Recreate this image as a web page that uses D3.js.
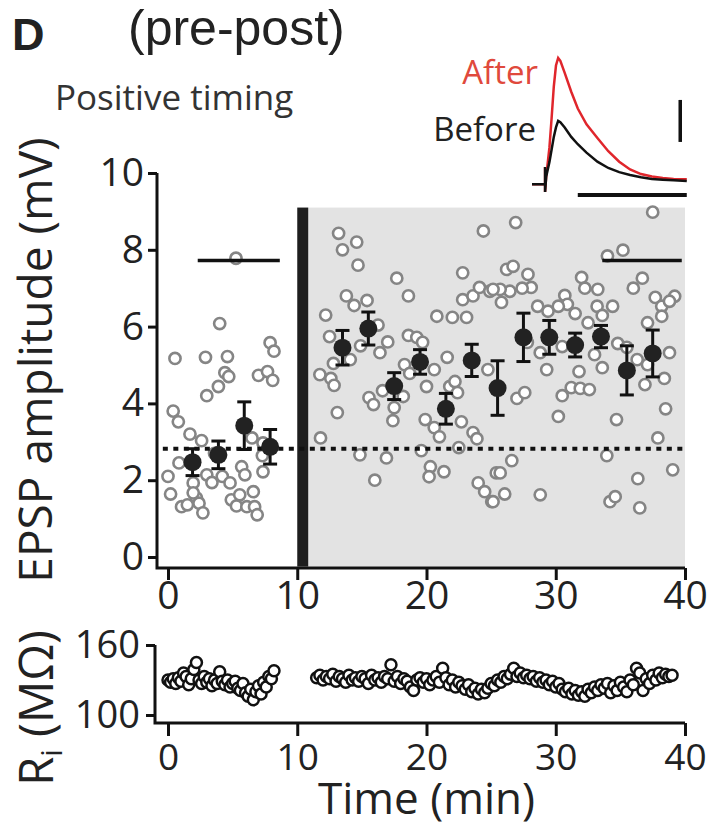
<!DOCTYPE html>
<html>
<head>
<meta charset="utf-8">
<script src="https://cdn.jsdelivr.net/npm/d3@7"></script>
<style>
  body { margin: 0; background: #fff; }
  text { font-family: "Open Sans", sans-serif; fill: #222; }
</style>
</head>
<body>
<svg width="710" height="827"></svg>
<script>
// EPSP amplitude of every sweep (min, mV)
const epspT = [5.26, 4.0, 0.54, 2.9, 4.6, 7.9, 8.2, 4.4, 4.7, 3.9, 3.0, 7.0, 7.7, 8.1, 0.4, 0.8, 1.7, 2.6, 6.5, 7.3,
  7.35, 0.85, 0.0, 3.0, 3.4, 4.2, 4.8, 5.7, 5.95, 1.95, 0.2, 1.05, 1.5, 2.2, 2.4, 2.7, 4.9, 5.3, 5.55, 6.1,
  6.6, 6.7, 6.9, 1.95, 3.6, 7.35,
  13.2, 13.5, 14.6, 14.7, 17.7, 18.6, 24.4, 22.8, 13.8, 14.4, 15.4, 12.2, 12.5, 14.9, 16.25, 17.0, 16.4, 14.1, 12.8, 11.75,
  12.6, 12.85, 13.1, 11.8, 14.85, 16.0, 16.9, 15.55, 15.9, 16.6, 17.5, 17.4, 18.2, 18.3, 18.6, 19.25, 19.7, 18.7, 20.6, 20.0,
  20.8, 22.0, 23.1, 21.6, 21.8, 22.2, 22.4, 19.9, 20.6, 21.0, 22.7, 23.6, 23.9, 22.5, 19.6, 20.3, 20.2, 21.35, 24.0, 24.5,
  25.05, 25.4, 22.8, 23.6, 24.1, 24.9, 24.75, 26.9, 37.5, 35.2, 34.0, 26.2, 26.7, 27.85, 28.1, 27.4, 26.45, 25.7, 25.15, 25.8,
  32.0, 32.25, 33.25, 36.7, 36.0, 37.7, 38.2, 39.2, 38.8, 38.2, 30.7, 30.9, 28.6, 29.4, 30.2, 31.5, 33.2, 33.6, 34.4, 32.5,
  37.1, 27.8, 28.8, 30.5, 33.0, 34.8, 35.5, 36.3, 37.1, 38.8, 29.3, 31.8, 33.6, 38.4, 36.9, 31.2, 31.9, 32.6, 30.5, 27.0,
  27.6, 30.2, 34.7, 38.5, 37.9, 33.95, 26.6, 25.7, 39.05, 36.35, 26.05, 25.15, 28.8, 34.2, 34.6, 36.5];
const epspV = [7.78, 6.08, 5.17, 5.2, 5.22, 5.58, 5.36, 4.8, 4.7, 4.44, 4.2, 4.73, 4.83, 4.6, 3.8, 3.52, 3.2, 3.03, 3.1, 2.64,
  2.22, 2.45, 2.1, 2.14, 1.94, 2.1, 1.93, 2.35, 2.14, 1.93, 1.64, 1.31, 1.36, 1.54, 1.4, 1.15, 1.49, 1.33, 1.62, 1.31,
  1.7, 1.31, 1.1, 1.67, 2.7, 2.97,
  8.43, 8.0, 8.2, 7.6, 7.26, 6.8, 8.49, 7.4, 6.8, 6.55, 6.68, 6.3, 5.74, 5.5, 6.04, 5.6, 5.32, 5.14, 5.04, 4.75,
  4.65, 4.47, 3.76, 3.1, 2.66, 2.0, 2.58, 4.15, 3.97, 4.33, 3.89, 3.55, 4.18, 5.01, 5.77, 5.72, 5.59, 4.78, 4.88, 4.44,
  6.27, 6.24, 6.24, 5.2, 4.44, 4.57, 4.28, 3.58, 3.37, 3.13, 3.52, 3.24, 3.08, 2.85, 2.77, 2.35, 2.09, 2.22, 1.93, 1.7,
  1.44, 2.19, 6.7, 6.8, 7.02, 6.92, 4.88, 8.71, 8.98, 7.99, 7.84, 7.49, 7.57, 7.36, 7.02, 7.0, 6.92, 6.97, 6.97, 6.63,
  7.28, 7.0, 6.97, 7.26, 7.0, 6.76, 6.53, 6.79, 6.66, 6.27, 6.81, 6.58, 6.53, 6.4, 6.53, 6.34, 6.53, 6.29, 6.53, 6.1,
  6.1, 5.59, 5.32, 5.48, 5.27, 5.56, 5.46, 5.14, 5.01, 5.32, 4.88, 4.83, 4.93, 4.65, 4.49, 4.41, 4.39, 4.36, 4.2, 4.13,
  4.28, 3.66, 3.58, 3.86, 3.1, 2.64, 2.51, 2.19, 2.27, 2.04, 1.64, 1.44, 1.62, 1.44, 1.57, 1.28];

// 2-min bin means +- SEM
const meanT = [1.9, 3.9, 5.9, 7.9, 13.5, 15.5, 17.5, 19.5, 21.5, 23.5, 25.5, 27.5, 29.5, 31.5, 33.5, 35.5, 37.5];
const meanV = [2.47, 2.66, 3.42, 2.87, 5.45, 5.95, 4.45, 5.08, 3.86, 5.12, 4.4, 5.72, 5.72, 5.52, 5.74, 4.86, 5.3];
const meanSem = [0.35, 0.36, 0.62, 0.45, 0.45, 0.43, 0.35, 0.32, 0.4, 0.42, 0.71, 0.63, 0.44, 0.31, 0.29, 0.64, 0.61];

const baseline = 2.82;
const pairing = [10.0, 10.85];
const windowBefore = [2.3, 8.65];
const windowAfter = [33.6, 39.75];
const windowLevel = 7.72;

// input resistance, one sweep every 0.2 min (pre) / 0.25 min (post)
const riPreStart = 0, riPreStep = 0.2;
const riPre = [130, 128, 131, 127, 132, 129, 136, 133, 126, 131, 139, 145, 130, 127, 133, 128, 131, 125, 130, 127,
  137, 129, 126, 130, 124, 127, 129, 123, 121, 127, 119, 116, 122, 113, 120, 125, 118, 128, 124, 133, 131, 138];
const riPostStart = 11.5, riPostStep = 0.25;
const riPost = [132, 134, 130, 133, 131, 135, 129, 133, 131, 128, 134, 130, 132, 129, 133, 131, 127, 134, 130, 132,
  128, 133, 131, 143, 129, 133, 127, 131, 129, 124, 121, 130, 132, 128, 131, 126, 130, 133, 128, 140,
  132, 126, 130, 124, 128, 125, 122, 126, 120, 123, 118, 122, 119, 123, 127, 125, 130, 128, 133, 131,
  135, 140, 133, 136, 132, 134, 131, 133, 129, 132, 128, 130, 126, 129, 124, 127, 122, 120, 123, 118,
  121, 117, 120, 116, 122, 119, 124, 121, 126, 123, 127, 119, 125, 121, 128, 124, 120, 130, 126, 140,
  136, 121, 131, 127, 134, 130, 136, 132, 135, 133, 134];

// example traces (ms, mV)
const traceT = [0, 6, 6, 6, 6.5, 8, 9, 10, 11, 12, 13, 15, 18, 21, 25, 30, 35, 40, 45, 50, 55, 60, 65, 71];
const beforeV = [-0.15, -0.15, 0.67, -0.52, 0.2, 0.9, 1.5, 2.1, 2.55, 2.86, 2.8, 2.55, 2.1, 1.75, 1.35, 0.92, 0.62, 0.42, 0.29, 0.18, 0.1, 0.06, 0.03, 0.0];
const afterV = [-0.15, -0.15, 0.67, -0.52, 0.2, 1.6, 3.0, 4.5, 5.5, 5.86, 5.72, 5.15, 4.25, 3.45, 2.7, 2.05, 1.42, 0.92, 0.55, 0.33, 0.21, 0.14, 0.1, 0.08];

const xTicks = [0, 10, 20, 30, 40];
const yTicksTop = [0, 2, 4, 6, 8, 10];
const yTicksBot = [100, 160];

const svg = d3.select("svg");

let xScale = d3.scaleLinear().domain([0, 40]).range([168, 685]);
let yTop = d3.scaleLinear().domain([0, 10]).range([557, 173]);
let yBot = d3.scaleLinear().domain([100, 160]).range([715, 645]);

// --- top panel ---
svg.append("rect")
  .attr("x", xScale(pairing[1])).attr("y", yTop(9.1))
  .attr("width", xScale(40) - xScale(pairing[1]))
  .attr("height", yTop(-0.25) - yTop(9.1))
  .attr("fill", "#e3e3e3");

svg.append("rect")
  .attr("x", xScale(pairing[0])).attr("y", yTop(9.1))
  .attr("width", xScale(pairing[1]) - xScale(pairing[0]))
  .attr("height", yTop(-0.25) - yTop(9.1))
  .attr("fill", "#1e1e1e");

let pts = d3.range(epspT.length);
svg.selectAll(".raw")
  .data(pts)
  .enter()
  .append("circle")
  .attr("class", "raw")
  .attr("cx", i => xScale(epspT[i]))
  .attr("cy", i => yTop(epspV[i]))
  .attr("r", 5.6)
  .attr("fill", "#fff")
  .attr("stroke", "#858585")
  .attr("stroke-width", 2.6);

svg.append("line")
  .attr("x1", xScale(-0.4)).attr("x2", xScale(40))
  .attr("y1", yTop(baseline)).attr("y2", yTop(baseline))
  .attr("stroke", "#111").attr("stroke-width", 4)
  .attr("stroke-dasharray", "5,5.5");

[windowBefore, windowAfter].forEach(w => {
  svg.append("line")
    .attr("x1", xScale(w[0])).attr("x2", xScale(w[1]))
    .attr("y1", yTop(windowLevel)).attr("y2", yTop(windowLevel))
    .attr("stroke", "#111").attr("stroke-width", 3.5);
});

let means = d3.range(meanT.length);
let eb = svg.append("g").attr("stroke", "#111").attr("stroke-width", 3);
eb.selectAll(".bar").data(means).enter().append("line")
  .attr("x1", i => xScale(meanT[i])).attr("x2", i => xScale(meanT[i]))
  .attr("y1", i => yTop(meanV[i] + meanSem[i])).attr("y2", i => yTop(meanV[i] - meanSem[i]));
eb.selectAll(".capHi").data(means).enter().append("line")
  .attr("x1", i => xScale(meanT[i]) - 7).attr("x2", i => xScale(meanT[i]) + 7)
  .attr("y1", i => yTop(meanV[i] + meanSem[i])).attr("y2", i => yTop(meanV[i] + meanSem[i]));
eb.selectAll(".capLo").data(means).enter().append("line")
  .attr("x1", i => xScale(meanT[i]) - 7).attr("x2", i => xScale(meanT[i]) + 7)
  .attr("y1", i => yTop(meanV[i] - meanSem[i])).attr("y2", i => yTop(meanV[i] - meanSem[i]));
svg.selectAll(".mean").data(means).enter().append("circle")
  .attr("cx", i => xScale(meanT[i]))
  .attr("cy", i => yTop(meanV[i]))
  .attr("r", 9)
  .attr("fill", "#222");

// axes
let styleAxis = size => g => {
  g.select(".domain").remove();
  g.selectAll(".tick line").attr("stroke", "#111").attr("stroke-width", 3);
  g.selectAll(".tick text").style("font-size", size + "px").attr("fill", "#222");
};

svg.append("g")
  .attr("transform", "translate(157,0)")
  .call(d3.axisLeft(yTop).tickValues(yTicksTop).tickSize(9).tickPadding(4))
  .call(styleAxis(39));
svg.append("g")
  .attr("transform", "translate(0,568)")
  .call(d3.axisBottom(xScale).tickValues(xTicks).tickSize(12).tickPadding(1))
  .call(styleAxis(39));
svg.append("path")
  .attr("d", "M157," + yTop(10) + "V568H" + xScale(40))
  .attr("fill", "none").attr("stroke", "#111").attr("stroke-width", 3);

// --- bottom panel ---
let ri = riPre.map((v, i) => [riPreStart + i * riPreStep, v])
  .concat(riPost.map((v, i) => [riPostStart + i * riPostStep, v]));
svg.selectAll(".ri").data(ri).enter().append("circle")
  .attr("cx", d => xScale(d[0]))
  .attr("cy", d => yBot(d[1]))
  .attr("r", 5.5)
  .attr("fill", "#fff")
  .attr("stroke", "#111")
  .attr("stroke-width", 2.5);

svg.append("g")
  .attr("transform", "translate(155,0)")
  .call(d3.axisLeft(yBot).tickValues(yTicksBot).tickSize(9).tickPadding(6))
  .call(styleAxis(38));
svg.append("g")
  .attr("transform", "translate(0,723)")
  .call(d3.axisBottom(xScale).tickValues(xTicks).tickSize(13).tickPadding(8))
  .call(styleAxis(37));
svg.append("path")
  .attr("d", "M155," + yBot(160) + "V723H" + xScale(40))
  .attr("fill", "none").attr("stroke", "#111").attr("stroke-width", 3);

// --- inset traces ---
let xIn = d3.scaleLinear().domain([0, 50]).range([532, 641]);
let yIn = d3.scaleLinear().domain([0, 2]).range([181, 139]);
let line = d3.line().x(d => xIn(d[0])).y(d => yIn(d[1]));
svg.append("path")
  .attr("d", line(traceT.map((t, i) => [t, afterV[i]])))
  .attr("fill", "none").attr("stroke", "#e0262c").attr("stroke-width", 2.5);
svg.append("path")
  .attr("d", line(traceT.map((t, i) => [t, beforeV[i]])))
  .attr("fill", "none").attr("stroke", "#111").attr("stroke-width", 2.5);
svg.append("line")
  .attr("x1", xIn(68)).attr("x2", xIn(68))
  .attr("y1", yIn(1.86)).attr("y2", yIn(3.86))
  .attr("stroke", "#111").attr("stroke-width", 3.5);
svg.append("line")
  .attr("x1", xIn(21)).attr("x2", xIn(71))
  .attr("y1", yIn(-0.67)).attr("y2", yIn(-0.67))
  .attr("stroke", "#111").attr("stroke-width", 4);

svg.append("text").attr("x", 538).attr("y", 84).attr("text-anchor", "end")
  .style("font-size", "33px").style("fill", "#e0493c").text("After");
svg.append("text").attr("x", 536).attr("y", 141).attr("text-anchor", "end")
  .style("font-size", "33px").text("Before");

// --- titles ---
svg.append("text").attr("x", 12).attr("y", 50)
  .style("font-family", "Liberation Sans, Arial, sans-serif").style("font-weight", "bold")
  .style("font-size", "45px").text("D");
svg.append("text").attr("x", 128).attr("y", 45)
  .style("font-family", "Liberation Sans, Arial, sans-serif")
  .style("font-size", "50px").text("(pre-post)");
svg.append("text").attr("x", 55).attr("y", 110)
  .style("font-size", "35px").style("fill", "#333").text("Positive timing");

svg.append("text")
  .attr("transform", "translate(52,360) rotate(-90)")
  .attr("text-anchor", "middle")
  .style("font-size", "46px").text("EPSP amplitude (mV)");

let riLab = svg.append("text")
  .attr("transform", "translate(53,708) rotate(-90)")
  .attr("text-anchor", "middle")
  .style("font-size", "47px");
riLab.append("tspan").text("R");
riLab.append("tspan").attr("dy", 9).style("font-size", "30px").text("i");
riLab.append("tspan").attr("dy", -9).text(" (MΩ)");

svg.append("text").attr("x", xScale(20)).attr("y", 814)
  .attr("text-anchor", "middle")
  .style("font-size", "44px").text("Time (min)");
</script>
</body>
</html>
